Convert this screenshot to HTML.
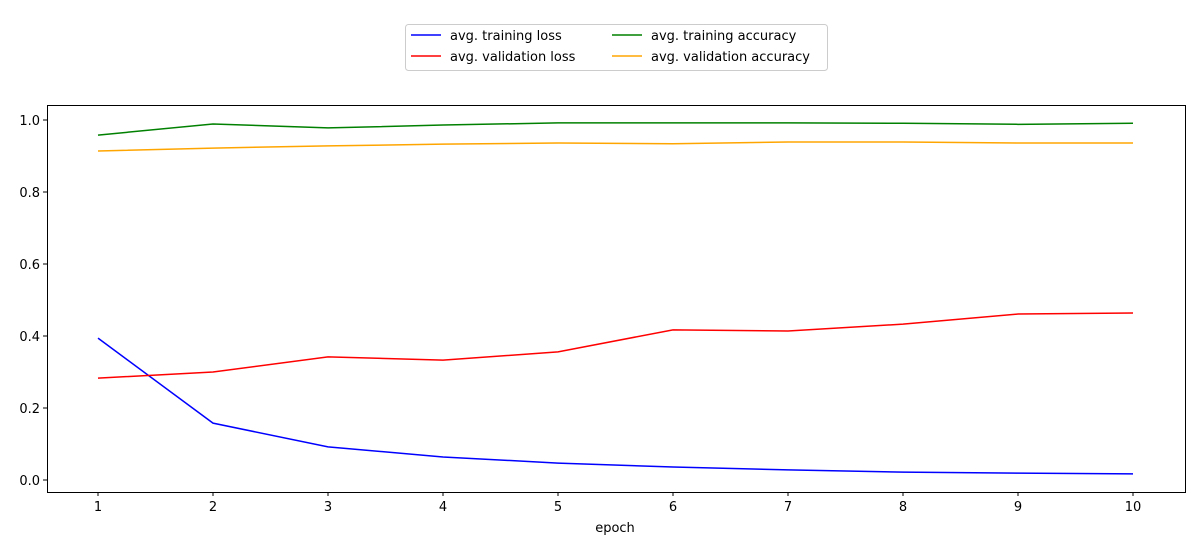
<!DOCTYPE html>
<html><head><meta charset="utf-8"><style>
body{margin:0;background:#fff;}
svg text{font-family:"DejaVu Sans","Liberation Sans",sans-serif;font-size:13px;fill:#000;}
</style></head><body>
<svg id="chart" width="1200" height="550" xmlns="http://www.w3.org/2000/svg">
<rect x="0" y="0" width="1200" height="550" fill="#fff"/>
<g id="series"></g>
<rect x="47.5" y="105.5" width="1138" height="387" fill="none" stroke="#000" stroke-width="1"/>
<g id="axes"></g>
<text x="615" y="532" text-anchor="middle">epoch</text>
<g>
<rect x="405.5" y="24.5" width="422" height="46" rx="3" fill="#fff" stroke="#ccc"/>
<line x1="411" y1="35" x2="441" y2="35" stroke="blue" stroke-width="1.5"/>
<text x="450" y="40">avg. training loss</text>
<line x1="411" y1="56" x2="441" y2="56" stroke="red" stroke-width="1.5"/>
<text x="450" y="61">avg. validation loss</text>
<line x1="612" y1="35" x2="642" y2="35" stroke="green" stroke-width="1.5"/>
<text x="651" y="40">avg. training accuracy</text>
<line x1="612" y1="56" x2="642" y2="56" stroke="orange" stroke-width="1.5"/>
<text x="651" y="61">avg. validation accuracy</text>
</g>
</svg>
<script>
const epochs=[1,2,3,4,5,6,7,8,9,10];
const trainLoss=[0.394,0.158,0.092,0.064,0.047,0.036,0.028,0.022,0.019,0.017];
const valLoss=[0.283,0.300,0.342,0.333,0.356,0.417,0.414,0.433,0.461,0.464];
const trainAcc=[0.958,0.989,0.978,0.986,0.992,0.992,0.992,0.991,0.988,0.991];
const valAcc=[0.914,0.922,0.928,0.933,0.936,0.934,0.939,0.939,0.936,0.936];
const yTicks=[0.0,0.2,0.4,0.6,0.8,1.0];
const xTicks=[1,2,3,4,5,6,7,8,9,10];
const NS="http://www.w3.org/2000/svg";
function xs(v){return 98+(v-1)*115;}
function ys(v){return 480-v*360;}
const axes=document.getElementById('axes');
const series=document.getElementById('series');
function mk(tag,attrs,parent){const e=document.createElementNS(NS,tag);for(const k in attrs)e.setAttribute(k,attrs[k]);parent.appendChild(e);return e;}
xTicks.forEach(t=>{
  const l=mk('line',{x1:xs(t),x2:xs(t),y1:492,y2:496,stroke:'#000'},axes);
  
  
  const tx=mk('text',{x:xs(t),y:511,'text-anchor':'middle'},axes);tx.textContent=t;
  
  
});
yTicks.forEach(t=>{
  const l=mk('line',{x1:43,x2:47,y1:ys(t),y2:ys(t),stroke:'#000'},axes);
  
  
  const tx=mk('text',{x:40,y:ys(t)+5,'text-anchor':'end'},axes);tx.textContent=t.toFixed(1);
  
  
});
function draw(vals,color,name){
  const p=mk('polyline',{points:vals.map((v,i)=>xs(epochs[i])+','+ys(v)).join(' '),fill:'none',stroke:color,'stroke-width':1.5},series);
  
  
}
draw(trainLoss,'blue','training-loss-line');
draw(valLoss,'red','validation-loss-line');
draw(trainAcc,'green','training-accuracy-line');
draw(valAcc,'orange','validation-accuracy-line');
</script>
</body></html>
